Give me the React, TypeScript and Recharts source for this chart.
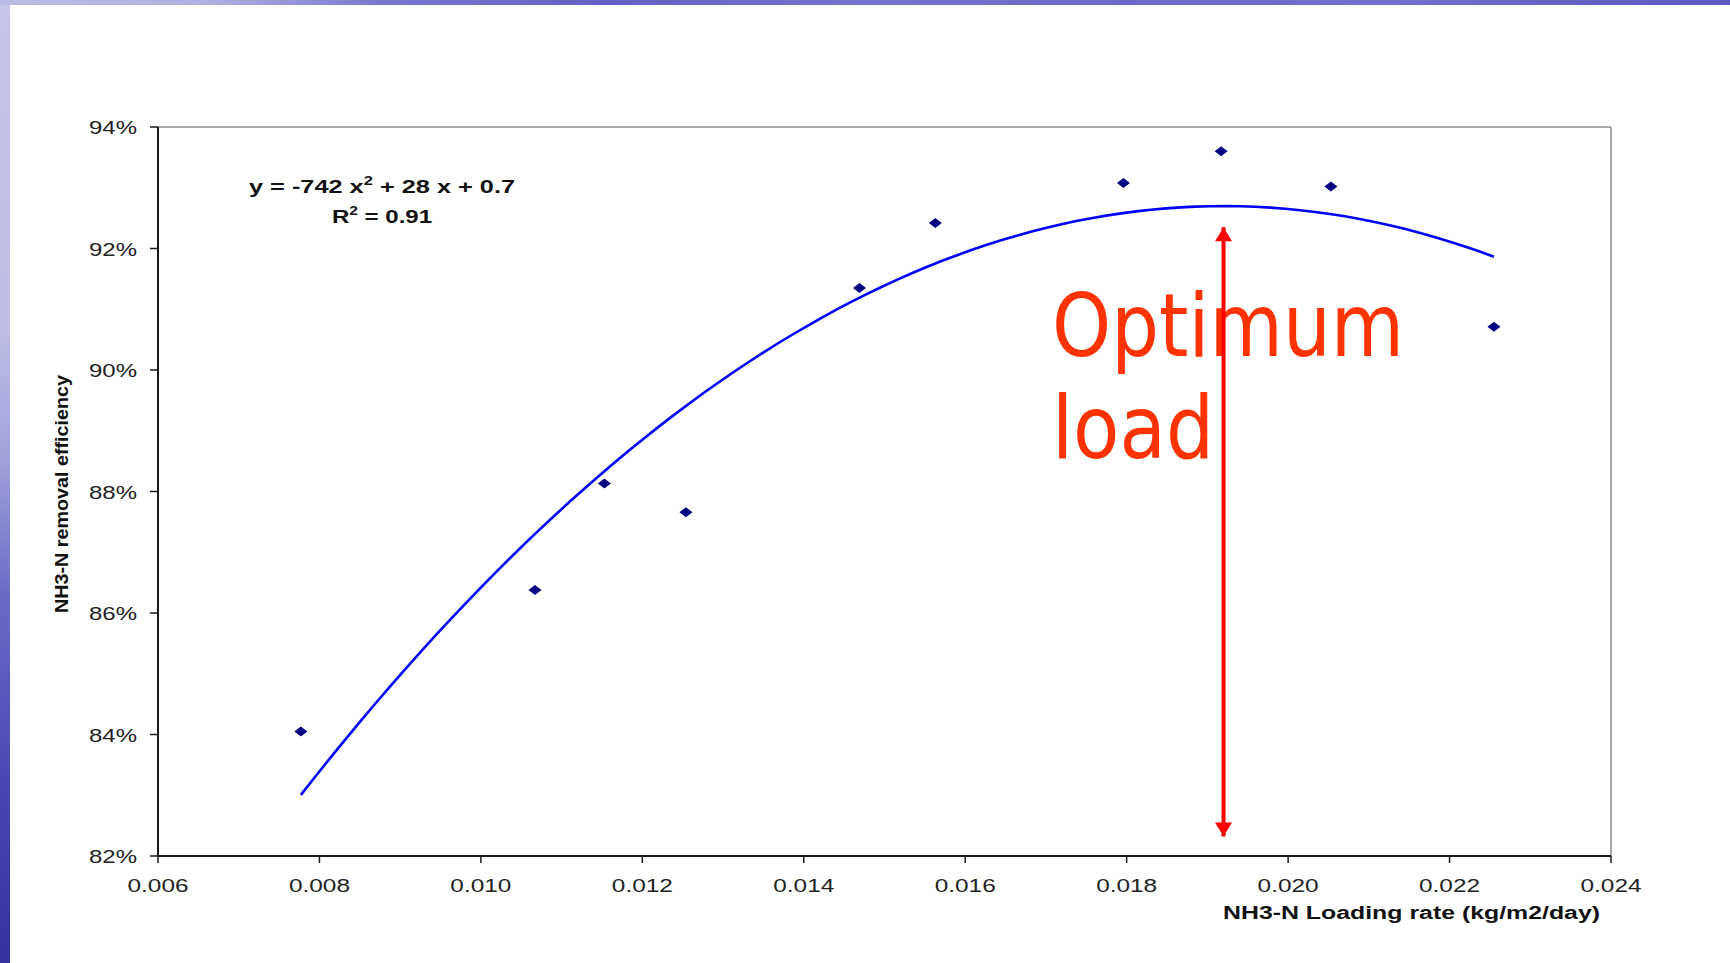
import React from 'react';
import { ScatterChart, Scatter, XAxis, YAxis, ReferenceLine } from 'recharts';

// NH3-N loading rate (kg/m2/day) and measured removal efficiency
const loadingRate = [0.00777, 0.01067, 0.01153, 0.01254, 0.01469, 0.01563, 0.01796, 0.01917, 0.02053, 0.02255];
const removalEff = [0.8405, 0.8638, 0.8813, 0.8766, 0.9135, 0.9242, 0.9308, 0.936, 0.9302, 0.9071];

// Polynomial trend line y = a x^2 + b x + c and its fit quality
const trendCoef = [-742, 28.49, 0.6535];
const rSquared = 0.91;

// Optimum load marker (x) and the efficiency span covered by the arrow
const optimumLoad = 0.0192;
const arrowSpan = [0.8232, 0.9235];

const xTicks = [0.006, 0.008, 0.01, 0.012, 0.014, 0.016, 0.018, 0.02, 0.022, 0.024];
const yTicks = [0.82, 0.84, 0.86, 0.88, 0.9, 0.92, 0.94];

const xTitle = 'NH3-N Loading rate (kg/m2/day)';
const yTitle = 'NH3-N removal efficiency';
const annotation = ['Optimum', 'load'];

const points = loadingRate.map((x, i) => ({ x, y: removalEff[i] }));

const polyAt = (x: number) => trendCoef[0] * x * x + trendCoef[1] * x + trendCoef[2];
const trendSteps = 80;
const xFirst = loadingRate[0];
const xLast = loadingRate[loadingRate.length - 1];
const trend = Array.from({ length: trendSteps + 1 }, (_, i) => {
  const x = xFirst + ((xLast - xFirst) * i) / trendSteps;
  return { x, y: polyAt(x) };
});

const arrowPts = [
  { x: optimumLoad, y: arrowSpan[0], up: false },
  { x: optimumLoad, y: arrowSpan[1], up: true },
];

const eqText = {
  a: String(Math.round(trendCoef[0])),
  b: String(Math.round(trendCoef[1])),
  c: trendCoef[2].toFixed(1),
  r2: rSquared.toFixed(2),
};

const TICK_FONT = "'Liberation Sans', Arial, sans-serif";

const XTick = (props: any) => {
  const { x, y, payload } = props;
  return (
    <text
      x={x}
      y={y + 15}
      textAnchor="middle"
      fontFamily={TICK_FONT}
      fontSize={19}
      fill="#222"
      textLength={61}
      lengthAdjust="spacingAndGlyphs"
    >
      {Number(payload.value).toFixed(3)}
    </text>
  );
};

const YTick = (props: any) => {
  const { x, y, payload } = props;
  return (
    <text
      x={x}
      y={y + 7}
      textAnchor="end"
      fontFamily={TICK_FONT}
      fontSize={19}
      fill="#222"
      textLength={48}
      lengthAdjust="spacingAndGlyphs"
    >
      {Math.round(Number(payload.value) * 100) + '%'}
    </text>
  );
};

const Diamond = (props: any) => {
  const { cx, cy } = props;
  if (cx == null || cy == null) return <g />;
  return (
    <polygon
      points={`${cx - 6.5},${cy} ${cx},${cy - 5} ${cx + 6.5},${cy} ${cx},${cy + 5}`}
      fill="#000080"
    />
  );
};

const Arrowhead = (props: any) => {
  const { cx, cy, payload } = props;
  if (cx == null || cy == null) return <g />;
  const base = payload && payload.up ? cy + 14 : cy - 14;
  return (
    <polygon
      points={`${cx},${cy} ${cx - 8.5},${base} ${cx + 8.5},${base}`}
      fill="#FF0000"
    />
  );
};

const NoMark = () => <g />;

export default function App() {
  return (
    <div
      style={{
        position: 'absolute',
        left: 0,
        top: 0,
        width: 1730,
        height: 963,
        background: '#ffffff',
        overflow: 'hidden',
      }}
    >
      {/* slide frame strips */}
      <div
        style={{
          position: 'absolute',
          left: 0,
          top: 0,
          width: 10,
          height: 963,
          background:
            'linear-gradient(to bottom, #c6c6ec 0%, #bcbce6 35%, #a0a0da 48%, #6a6ac6 62%, #4a4ab4 80%, #3232a0 100%)',
        }}
      />
      <div
        style={{
          position: 'absolute',
          left: 0,
          top: 0,
          width: 1730,
          height: 5,
          background:
            'linear-gradient(to right, #bcbce8 0%, #b0b0e2 12%, #7878cc 22%, #6262c6 35%, #7474cc 50%, #6a6ac8 65%, #7070cc 80%, #5a5ac0 100%)',
        }}
      />

      {/* text layer under the plotted marks */}
      <svg
        width={1730}
        height={963}
        style={{ position: 'absolute', left: 0, top: 0 }}
      >
        <g fontFamily={TICK_FONT} fontWeight="bold" fill="#111">
          <g transform="translate(382,193) scale(1.37,1)">
            <text x={0} y={0} textAnchor="middle" fontSize={18.5}>
              {`y = ${eqText.a} x`}
              <tspan fontSize={12} dy={-8}>2</tspan>
              <tspan dy={8}>{` + ${eqText.b} x + ${eqText.c}`}</tspan>
            </text>
          </g>
          <g transform="translate(382,223) scale(1.3,1)">
            <text x={0} y={0} textAnchor="middle" fontSize={18.5}>
              R
              <tspan fontSize={12} dy={-8}>2</tspan>
              <tspan dy={8}>{` = ${eqText.r2}`}</tspan>
            </text>
          </g>
          <text
            x={1223}
            y={919}
            fontSize={18}
            textLength={377}
            lengthAdjust="spacingAndGlyphs"
          >
            {xTitle}
          </text>
          <text
            transform="translate(68,494) rotate(-90)"
            x={0}
            y={0}
            textAnchor="middle"
            fontSize={18}
            textLength={238}
            lengthAdjust="spacingAndGlyphs"
          >
            {yTitle}
          </text>
        </g>
        <g fontFamily="'DejaVu Sans', Verdana, sans-serif" fontSize={87} fill="#FF3300">
          <text x={1052} y={356} textLength={352} lengthAdjust="spacingAndGlyphs">
            {annotation[0]}
          </text>
          <text x={1052} y={458} textLength={162} lengthAdjust="spacingAndGlyphs">
            {annotation[1]}
          </text>
        </g>
      </svg>

      <div style={{ position: 'absolute', left: 0, top: 0 }}>
        <ScatterChart
          width={1730}
          height={963}
          margin={{ top: 127, right: 119, bottom: 47, left: 58 }}
        >
          <XAxis
            type="number"
            dataKey="x"
            domain={[xTicks[0], xTicks[xTicks.length - 1]]}
            ticks={xTicks}
            interval={0}
            allowDataOverflow
            height={60}
            tickSize={7}
            tickMargin={14}
            axisLine={{ stroke: '#1a1a1a', strokeWidth: 2 }}
            tickLine={{ stroke: '#1a1a1a', strokeWidth: 1.5 }}
            tick={<XTick />}
          />
          <YAxis
            type="number"
            dataKey="y"
            domain={[yTicks[0], yTicks[yTicks.length - 1]]}
            ticks={yTicks}
            interval={0}
            allowDataOverflow
            width={100}
            tickSize={8}
            tickMargin={13}
            axisLine={{ stroke: '#1a1a1a', strokeWidth: 2 }}
            tickLine={{ stroke: '#1a1a1a', strokeWidth: 1.5 }}
            tick={<YTick />}
          />
          <ReferenceLine y={yTicks[yTicks.length - 1]} stroke="#8c8c8c" strokeWidth={1.5} />
          <ReferenceLine x={xTicks[xTicks.length - 1]} stroke="#8c8c8c" strokeWidth={1.5} />
          <Scatter
            data={trend}
            line={{ stroke: '#0000FF', strokeWidth: 2.6 }}
            lineType="joint"
            shape={NoMark}
            isAnimationActive={false}
          />
          <Scatter data={points} shape={Diamond} isAnimationActive={false} />
          <Scatter
            data={arrowPts}
            line={{ stroke: '#FF0000', strokeWidth: 4 }}
            lineType="joint"
            shape={Arrowhead}
            isAnimationActive={false}
          />
        </ScatterChart>
      </div>
    </div>
  );
}
